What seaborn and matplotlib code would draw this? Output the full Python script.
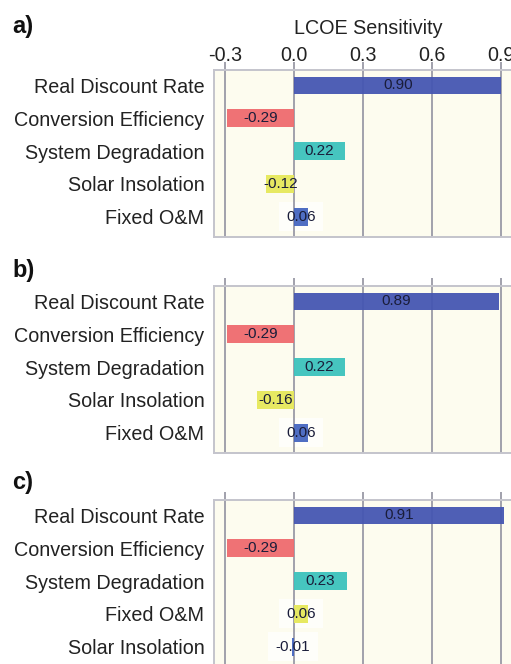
import matplotlib
matplotlib.use("Agg")
import matplotlib.pyplot as plt
import seaborn as sns
import pandas as pd

# ---- data ----
cats_a = ["Real Discount Rate", "Conversion Efficiency", "System Degradation", "Solar Insolation", "Fixed O&M"]
vals_a = [0.90, -0.29, 0.22, -0.12, 0.06]
cats_b = ["Real Discount Rate", "Conversion Efficiency", "System Degradation", "Solar Insolation", "Fixed O&M"]
vals_b = [0.89, -0.29, 0.22, -0.16, 0.06]
cats_c = ["Real Discount Rate", "Conversion Efficiency", "System Degradation", "Fixed O&M", "Solar Insolation"]
vals_c = [0.91, -0.29, 0.23, 0.06, -0.01]
panel_letters = ["a)", "b)", "c)"]
x_ticks = [-0.3, 0.0, 0.3, 0.6, 0.9]
x_title = "LCOE Sensitivity"

row_colors = ["#4556b2", "#ef6b6e", "#3cc2bd", "#e6e85a", "#4566c0"]

sns.set_theme(style="white")
plt.rcParams['font.family'] = ['Liberation Sans', 'DejaVu Sans']

fig = plt.figure(figsize=(5.11, 6.64), dpi=100)

H = 664.0
W = 511.0
left_px, right_px = 214, 522
boxes = [(70, 237), (286, 453), (500, 667)]
letter_y = [27, 271, 482]

panels = [(cats_a, vals_a), (cats_b, vals_b), (cats_c, vals_c)]

for i, ((cats, vals), (top, bot)) in enumerate(zip(panels, boxes)):
    ax = fig.add_axes([left_px / W, 1 - bot / H, (right_px - left_px) / W, (bot - top) / H])
    df = pd.DataFrame({"cat": cats, "val": vals})
    sns.barplot(data=df, y="cat", x="val", hue="cat", palette=row_colors,
                legend=False, orient="h", width=0.54, ax=ax, zorder=3,
                saturation=1, alpha=0.95, edgecolor="none")
    ax.set_facecolor("#fdfcef")
    ax.set_xlim(-0.348, 0.99)
    ax.set_ylim(4.62, -0.47)
    ax.set_xticks(x_ticks)
    for xt in x_ticks:
        ax.axvline(xt, color="#9a9aa6", lw=1.3, zorder=2)
    ax.xaxis.tick_top()
    ax.tick_params(axis="x", which="both", top=True, bottom=False, direction="out",
                   length=6, width=1.3, color="#9a9aa6", pad=-2.5,
                   labelsize=14.2, labelcolor="#222222")
    if i == 0:
        ax.set_xticklabels([f"{t:.1f}" for t in x_ticks])
        ax.set_xlabel(x_title, fontsize=14.2, color="#222222", labelpad=9)
        ax.xaxis.set_label_position("top")
    else:
        ax.set_xticklabels([])
        ax.set_xlabel("")
    ax.set_ylabel("")
    ax.tick_params(axis="y", length=0, pad=7, labelsize=14.2, labelcolor="#222222")
    for s in ax.spines.values():
        s.set_color("#c4c4cc")
        s.set_linewidth(1.4)
    # value labels
    for j, v in enumerate(vals):
        ax.text(v / 2, j, f"{v:.2f}", ha="center", va="center", fontsize=11,
                color="#1a1d3a", zorder=5)
        if abs(v) < 0.1:
            ax.text(v / 2, j, f"{v:.2f}", ha="center", va="center", fontsize=11,
                    color="none", zorder=1,
                    bbox=dict(boxstyle="square,pad=0.5", fc="white", ec="none", alpha=0.7))
    fig.text(12 / W, 1 - letter_y[i] / H, panel_letters[i], fontsize=17,
             fontweight="bold", ha="left", va="center", color="#111111")

fig.savefig("out.png", dpi=100)
